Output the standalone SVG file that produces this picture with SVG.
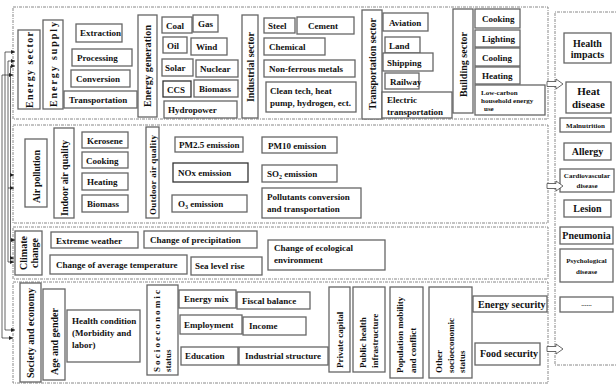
<svg xmlns="http://www.w3.org/2000/svg" width="616" height="385" viewBox="0 0 616 385">
<defs>
<marker id="ah" viewBox="0 0 6 6" refX="6" refY="3" markerWidth="4" markerHeight="4" markerUnits="userSpaceOnUse" orient="auto"><path d="M0,0 L6,3 L0,6 z" fill="#222"/></marker>
<style>
.panel{fill:none;stroke:#888;stroke-width:1;stroke-dasharray:3 1 1 1}
rect.b{fill:#fff;stroke:#666;stroke-width:1.3}
text{font-family:"Liberation Serif","Times New Roman",serif;font-weight:bold;fill:#111;font-size:9px}
.v{font-size:10px;text-anchor:middle;dominant-baseline:central}
.vs{font-size:9px;text-anchor:start;dominant-baseline:central}
.s{font-size:7px}
.c{text-anchor:middle}
.m{font-size:10px;text-anchor:middle}
.big{font-size:11px}
.conn line{stroke:#222;stroke-width:0.7;fill:none}
.ha{fill:#fff;stroke:#444;stroke-width:0.8}
</style>
</defs>
<rect width="616" height="385" fill="#fff"/>
<g id="panels">
<rect class="panel" x="13" y="7" width="535" height="112"/>
<rect class="panel" x="13" y="125" width="535" height="98"/>
<rect class="panel" x="13" y="227" width="535" height="52"/>
<rect class="panel" x="13" y="282" width="535" height="101"/>
<path class="panel" d="M620,12 H555 V365 H620"/>
</g>
<g id="energy-sector"><rect class="b" x="18" y="30" width="22" height="79"/><text class="v" transform="translate(29,70) rotate(-90)" textLength="76" lengthAdjust="spacing">Energy sector</text></g>
<g id="energy-supply"><rect class="b" x="43" y="20" width="20" height="89"/><text class="v" transform="translate(53,64.5) rotate(-90)" textLength="85" lengthAdjust="spacing">Energy supply</text></g>
<g id="extraction"><rect class="b" x="76" y="24" width="46" height="18"/><text x="80" y="36">Extraction</text></g>
<g id="processing"><rect class="b" x="72" y="49" width="60" height="17"/><text x="77" y="61">Processing</text></g>
<g id="conversion"><rect class="b" x="71" y="70" width="59" height="17"/><text x="76" y="82">Conversion</text></g>
<g id="transportation"><rect class="b" x="64" y="91" width="73" height="17"/><text x="69" y="103">Transportation</text></g>
<g id="energy-generation"><rect class="b" x="138" y="15" width="19" height="102"/><text class="v" transform="translate(147.5,66) rotate(-90)" textLength="82" lengthAdjust="spacing">Energy generation</text></g>
<g id="coal"><rect class="b" x="162" y="17" width="30" height="16"/><text x="166" y="29">Coal</text></g>
<g id="gas"><rect class="b" x="193" y="15" width="25" height="17"/><text x="198" y="27">Gas</text></g>
<g id="oil"><rect class="b" x="163" y="37" width="24" height="16"/><text x="167" y="49">Oil</text></g>
<g id="wind"><rect class="b" x="191" y="38" width="36" height="17"/><text x="196" y="50">Wind</text></g>
<g id="solar"><rect class="b" x="162" y="59" width="31" height="17"/><text x="165" y="71">Solar</text></g>
<g id="nuclear"><rect class="b" x="196" y="60" width="42" height="17"/><text x="200" y="72">Nuclear</text></g>
<g id="ccs"><rect class="b" x="163" y="81" width="28" height="16" style="stroke:#333"/><text x="167" y="93">CCS</text></g>
<g id="biomass"><rect class="b" x="194" y="80" width="44" height="17"/><text x="199" y="92">Biomass</text></g>
<g id="hydropower"><rect class="b" x="164" y="101" width="73" height="17"/><text x="168" y="113">Hydropower</text></g>
<g id="industrial-sector"><rect class="b" x="242" y="15" width="16" height="103"/><text class="v" transform="translate(250,67) rotate(-90)" textLength="70" lengthAdjust="spacing">Industrial sector</text></g>
<g id="steel"><rect class="b" x="264" y="18" width="31" height="15"/><text x="268" y="29">Steel</text></g>
<g id="cement"><rect class="b" x="297" y="17" width="57" height="17"/><text x="308" y="29">Cement</text></g>
<g id="chemical"><rect class="b" x="264" y="38" width="61" height="17"/><text x="269" y="50">Chemical</text></g>
<g id="non-ferrous"><rect class="b" x="264" y="60" width="91" height="17"/><text x="269" y="72">Non-ferrous metals</text></g>
<g id="clean-tech"><rect class="b" x="266" y="82" width="90" height="30"/><text x="270" y="94">Clean tech, heat</text><text x="270" y="106">pump, hydrogen, ect.</text></g>
<g id="transportation-sector"><rect class="b" x="362" y="10" width="20" height="109"/><text class="v" transform="translate(372,64) rotate(-90)" textLength="92" lengthAdjust="spacing">Transportation sector</text></g>
<g id="aviation"><rect class="b" x="383" y="13" width="45" height="18"/><text x="389" y="26">Aviation</text></g>
<g id="land"><rect class="b" x="385" y="37" width="35" height="16"/><text x="389" y="49">Land</text></g>
<g id="shipping"><rect class="b" x="383" y="53" width="50" height="18"/><text x="387" y="66">Shipping</text></g>
<g id="railway"><rect class="b" x="385" y="73" width="34" height="16"/><text x="390" y="85">Railway</text></g>
<g id="electric"><rect class="b" x="382" y="92" width="70" height="26"/><text x="387" y="103">Electric</text><text x="387" y="115">transportation</text></g>
<g id="building-sector"><rect class="b" x="453" y="9" width="20" height="104"/><text class="v" transform="translate(463,64.5) rotate(-90)" textLength="65" lengthAdjust="spacing">Building sector</text></g>
<g id="cooking"><rect class="b" x="475" y="9" width="45" height="19"/><text x="482" y="22">Cooking</text></g>
<g id="lighting"><rect class="b" x="475" y="30" width="45" height="17"/><text x="482" y="42">Lighting</text></g>
<g id="cooling"><rect class="b" x="475" y="48" width="45" height="18"/><text x="482" y="61">Cooling</text></g>
<g id="heating"><rect class="b" x="475" y="67" width="45" height="17"/><text x="482" y="79">Heating</text></g>
<g id="low-carbon"><rect class="b" x="475" y="85" width="70" height="30"/><text class="s" x="481" y="94.5">Low-carbon</text><text class="s" x="481" y="102.5">household energy</text><text class="s" x="484" y="110.5">use</text></g>
<g id="air-pollution"><rect class="b" x="25" y="139" width="22" height="68"/><text class="v" transform="translate(36,176.5) rotate(-90)" textLength="53" lengthAdjust="spacing">Air pollution</text></g>
<g id="indoor-air"><rect class="b" x="54" y="128" width="20" height="90"/><text class="v" transform="translate(64,178) rotate(-90)" textLength="76" lengthAdjust="spacing">Indoor air quality</text></g>
<g id="kerosene"><rect class="b" x="82" y="132" width="46" height="16"/><text x="87" y="144">Kerosene</text></g>
<g id="cooking-indoor"><rect class="b" x="82" y="152" width="46" height="16"/><text x="86" y="164">Cooking</text></g>
<g id="heating-indoor"><rect class="b" x="82" y="173" width="46" height="17"/><text x="87" y="185">Heating</text></g>
<g id="biomass-indoor"><rect class="b" x="82" y="195" width="46" height="17"/><text x="87" y="207">Biomass</text></g>
<g id="outdoor-air"><rect class="b" x="146" y="127" width="13" height="91"/><text class="v" style="font-size:9px" transform="translate(152.5,175) rotate(-90)" textLength="80" lengthAdjust="spacing">Outdoor air quality</text></g>
<g id="pm25"><rect class="b" x="175" y="137" width="68" height="15"/><text x="179" y="148">PM2.5 emission</text></g>
<g id="pm10"><rect class="b" x="262" y="137" width="75" height="16"/><text x="268" y="149">PM10 emission</text></g>
<g id="nox"><rect class="b" x="173" y="163" width="75" height="19" style="stroke:#333"/><text x="178" y="176">NOx emission</text></g>
<g id="so2"><rect class="b" x="262" y="165" width="75" height="17"/><text x="267" y="177">SO<tspan font-size="6" dy="2">2</tspan><tspan dy="-2"> emission</tspan></text></g>
<g id="o3"><rect class="b" x="172" y="195" width="75" height="17"/><text x="178" y="207">O<tspan font-size="6" dy="2">3</tspan><tspan dy="-2"> emission</tspan></text></g>
<g id="pollutants"><rect class="b" x="262" y="188" width="99" height="30"/><text x="267" y="200">Pollutants conversion</text><text x="267" y="212">and transportation</text></g>
<g id="climate-change"><rect class="b" x="15" y="231" width="27" height="44"/><text class="v" transform="translate(23,253) rotate(-90)">Climate</text><text class="v" transform="translate(34,253) rotate(-90)">change</text></g>
<g id="extreme-weather"><rect class="b" x="51" y="232" width="87" height="16"/><text x="56" y="244">Extreme weather</text></g>
<g id="precipitation"><rect class="b" x="144" y="231" width="113" height="17"/><text x="150" y="243">Change of precipitation</text></g>
<g id="avg-temperature"><rect class="b" x="50" y="255" width="137" height="19"/><text x="56" y="268">Change of average temperature</text></g>
<g id="sea-level"><rect class="b" x="191" y="257" width="71" height="18"/><text x="195" y="269">Sea level rise</text></g>
<g id="ecological"><rect class="b" x="268" y="240" width="117" height="30"/><text x="274" y="251">Change of ecological</text><text x="274" y="263">environment</text></g>
<g id="society-economy"><rect class="b" x="20" y="283" width="21" height="99"/><text class="v" transform="translate(30.5,333) rotate(-90)" textLength="90" lengthAdjust="spacing">Society and economy</text></g>
<g id="age-gender"><rect class="b" x="43" y="289" width="22" height="91"/><text class="v" transform="translate(54,341.5) rotate(-90)" textLength="67" lengthAdjust="spacing">Age and gender</text></g>
<g id="health-condition"><rect class="b" x="67" y="310" width="73" height="52"/><text x="72" y="324">Health condition</text><text x="72" y="336">(Morbidity and</text><text x="72" y="348">labor)</text></g>
<g id="socioeconomic-status"><rect class="b" x="147" y="285" width="31" height="90"/><text class="vs" transform="translate(157,372) rotate(-90)" textLength="82" lengthAdjust="spacing">Socioeconomic</text><text class="vs" transform="translate(168,372) rotate(-90)">status</text></g>
<g id="energy-mix"><rect class="b" x="179" y="290" width="57" height="18"/><text x="184" y="302">Energy mix</text></g>
<g id="fiscal-balance"><rect class="b" x="237" y="292" width="73" height="17"/><text x="242" y="304">Fiscal balance</text></g>
<g id="employment"><rect class="b" x="180" y="315" width="62" height="19"/><text x="184" y="328">Employment</text></g>
<g id="income"><rect class="b" x="243" y="317" width="63" height="18"/><text x="249" y="329">Income</text></g>
<g id="education"><rect class="b" x="181" y="347" width="57" height="18"/><text x="185" y="359">Education</text></g>
<g id="industrial-structure"><rect class="b" x="239" y="347" width="89" height="18"/><text x="245" y="359">Industrial structure</text></g>
<g id="private-capital"><rect class="b" x="329" y="287" width="21" height="85"/><text class="vs" transform="translate(339.5,368) rotate(-90)">Private capital</text></g>
<g id="public-health"><rect class="b" x="353" y="287" width="32" height="85"/><text class="vs" transform="translate(363,368) rotate(-90)">Public health</text><text class="vs" transform="translate(375,368) rotate(-90)">infrastructure</text></g>
<g id="population-mobility"><rect class="b" x="390" y="287" width="33" height="91"/><text class="vs" transform="translate(400,373) rotate(-90)">Population mobility</text><text class="vs" transform="translate(413,373) rotate(-90)">and conflict</text></g>
<g id="other-socioeconomic"><rect class="b" x="429" y="287" width="43" height="91"/><text class="vs" transform="translate(439,373) rotate(-90)">Other</text><text class="vs" transform="translate(451,373) rotate(-90)">socioeconomic</text><text class="vs" transform="translate(462,373) rotate(-90)">status</text></g>
<g id="energy-security"><rect class="b" x="473" y="296" width="74" height="16"/><text x="478" y="308" style="font-size:10px">Energy security</text></g>
<g id="food-security"><rect class="b" x="475" y="343" width="65" height="22"/><text x="480" y="357" style="font-size:10px">Food security</text></g>
<g id="health-impacts"><rect class="b" x="564" y="33" width="47" height="30"/><text class="m" x="587.5" y="46.5">Health</text><text class="m" x="587.5" y="58">impacts</text></g>
<g id="heat-disease"><rect class="b" x="566" y="82" width="45" height="31"/><text class="m big" x="588.5" y="95">Heat</text><text class="m big" x="588.5" y="107.5">disease</text></g>
<g id="malnutrition"><rect class="b" x="560" y="118" width="51" height="14"/><text class="s c" x="585.5" y="128">Malnutrition</text></g>
<g id="allergy"><rect class="b" x="564" y="143" width="47" height="17"/><text class="m" x="587.5" y="155">Allergy</text></g>
<g id="cardiovascular"><rect class="b" x="560" y="169" width="54" height="23"/><text class="s c" x="587" y="178">Cardiovascular</text><text class="s c" x="587" y="188">disease</text></g>
<g id="lesion"><rect class="b" x="564" y="200" width="47" height="17"/><text class="m" x="587.5" y="212">Lesion</text></g>
<g id="pneumonia"><rect class="b" x="560" y="227" width="53" height="17"/><text class="m" x="586.5" y="239">Pneumonia</text></g>
<g id="psychological"><rect class="b" x="560" y="249" width="53" height="33"/><text class="s c" x="586.5" y="263">Psychological</text><text class="s c" x="586.5" y="274">disease</text></g>
<g id="more"><rect class="b" x="560" y="297" width="53" height="15"/><text class="s c" x="586.5" y="306">......</text></g>
<g id="connectors" class="conn">
<line x1="2" y1="75" x2="2" y2="338"/>
<line x1="5" y1="52" x2="5" y2="330"/>
<line x1="8" y1="61" x2="8" y2="262"/>
<line x1="10.5" y1="66" x2="10.5" y2="258"/>
<line x1="5" y1="52" x2="15" y2="52" marker-end="url(#ah)"/>
<line x1="8" y1="61" x2="15" y2="61" marker-end="url(#ah)"/>
<line x1="10.5" y1="66" x2="15" y2="66" marker-end="url(#ah)"/>
<line x1="2" y1="75" x2="13" y2="75" marker-end="url(#ah)"/>
<line x1="10.5" y1="175" x2="14" y2="175" marker-end="url(#ah)"/>
<line x1="8" y1="188" x2="14" y2="188" marker-end="url(#ah)"/>
<line x1="10.5" y1="240" x2="15" y2="240" marker-end="url(#ah)"/>
<line x1="10.5" y1="258" x2="14" y2="258" marker-end="url(#ah)"/>
<line x1="8" y1="262" x2="14" y2="262" marker-end="url(#ah)"/>
<line x1="5" y1="330" x2="15" y2="330" marker-end="url(#ah)"/>
<line x1="2" y1="338" x2="13" y2="338" marker-end="url(#ah)"/>
<path class="ha" d="M547,81.5 H556 V79 L563,84 L556,89 V86.5 H547 Z"/>
<path class="ha" d="M547,183.5 H556 V181 L563,186 L556,191 V188.5 H547 Z"/>
<path class="ha" d="M547,346.5 H556 V344 L563,349 L556,354 V351.5 H547 Z"/>
</g>
</svg>
